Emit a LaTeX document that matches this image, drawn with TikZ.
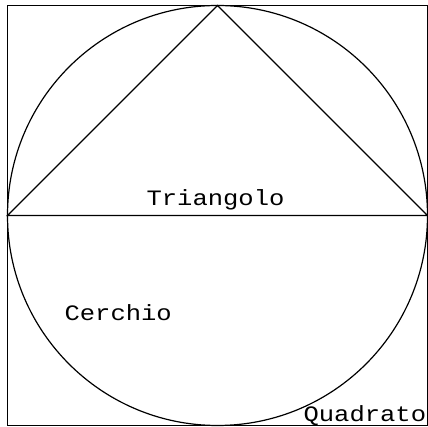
\documentclass[tikz,border=0pt]{standalone}
\usepackage{fontspec}
\newfontfamily\labelfont[FakeStretch=1.16]{Liberation Mono}
\usepackage{tikz}

\begin{document}
\begin{tikzpicture}[x=1pt,y=1pt,line width=1.2pt,
  every node/.style={font=\labelfont\fontsize{22}{26}\selectfont,inner sep=0pt}]
  \useasboundingbox (0,0) rectangle (428,427);
  \draw (7.5,1.5) rectangle (427.5,421.5);
  \draw (217.5,211.5) circle (210);
  \coordinate (left) at (7.5,211.5);
  \coordinate (right) at (427.5,211.5);
  \coordinate (apex) at (217.5,421.5);
  \draw (left) -- (right) -- (apex) -- cycle;
  \node[anchor=base west] (triangolo) at (146,221) {Triangolo};
  \node[anchor=base west] (cerchio) at (64,106) {Cerchio};
  \node[anchor=base west] (quadrato) at (303,5.5) {Quadrato};
\end{tikzpicture}
\end{document}
